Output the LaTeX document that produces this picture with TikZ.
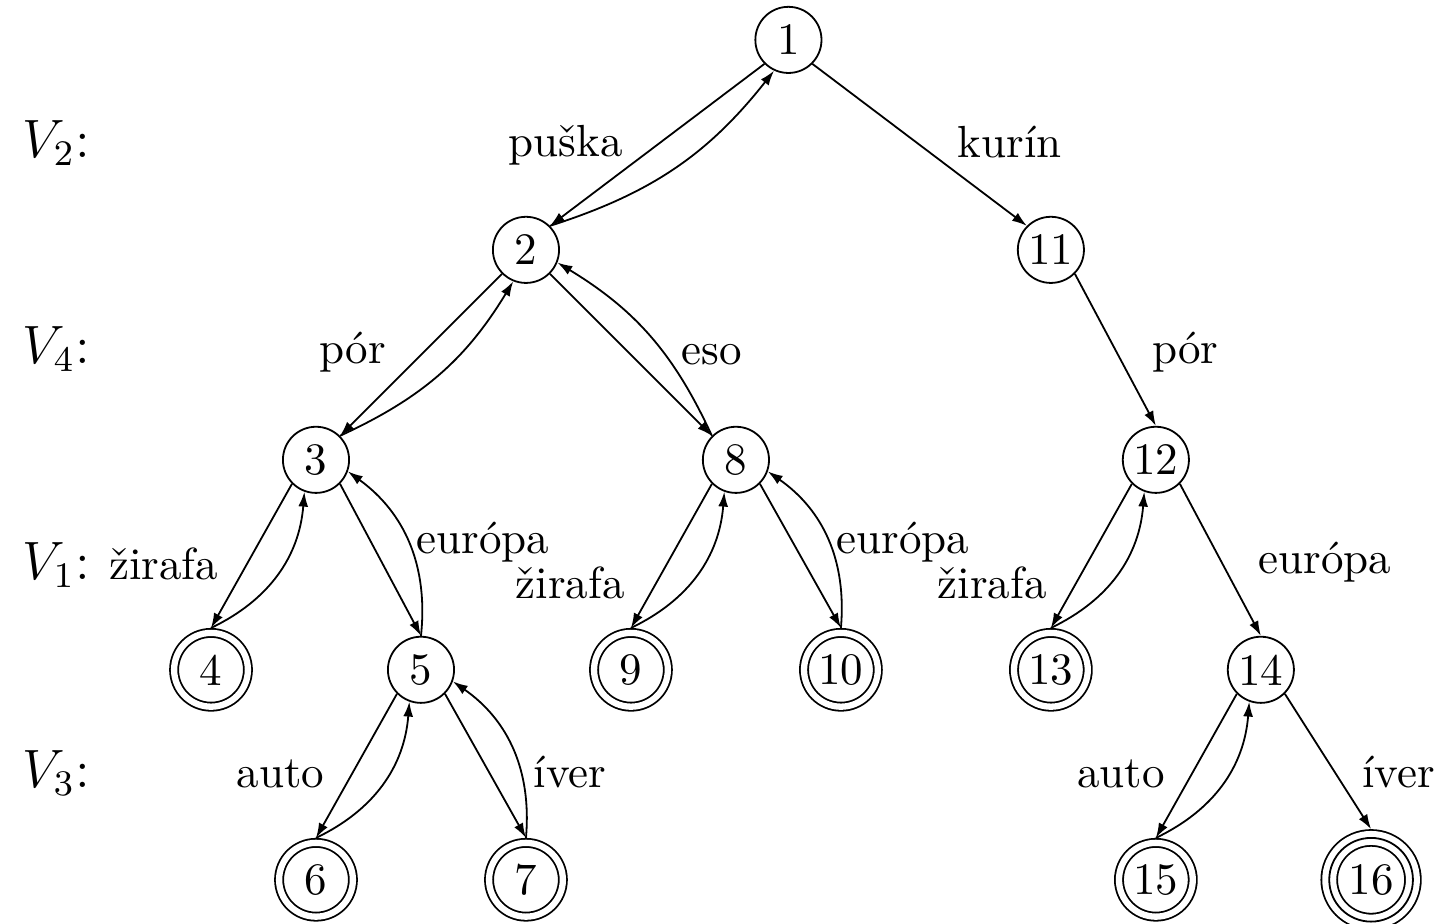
\documentclass[tikz,border=0pt]{standalone}
\usetikzlibrary{arrows.meta}

\tikzset{
  st/.style={circle, draw, minimum size=14.7pt, inner sep=0pt},
  acc/.style={st, minimum size=16.4pt, double, double distance=1.4pt, outer sep=1.1pt},
  acc3/.style={st, minimum size=18.6pt, outer sep=1.95pt, preaction={draw, double, double distance=3.1pt}},
  lbl/.style={anchor=base, inner sep=0pt},
  lev/.style={anchor=base west, inner sep=0pt, font=\large},
  tr/.style={-{Latex[length=3.3pt,width=2.2pt]}},
}

\begin{document}
\begin{tikzpicture}[x=0.82cm, y=0.82cm]
\useasboundingbox (-0.01,0.38) rectangle (13.84,-8.42);

% states
\node[st] (s1) at (7.5,0){1};
\node[st] (s2) at (5,-2){2};
\node[st] (s11) at (10,-2){11};
\node[st] (s3) at (3,-4){3};
\node[st] (s8) at (7,-4){8};
\node[st] (s12) at (11,-4){12};
\node[acc] (s4) at (2,-6){4};
\node[st] (s5) at (4,-6){5};
\node[acc] (s9) at (6,-6){9};
\node[acc] (s10) at (8,-6){10};
\node[acc] (s13) at (10,-6){13};
\node[st] (s14) at (12,-6){14};
\node[acc] (s6) at (3,-8){6};
\node[acc] (s7) at (5,-8){7};
\node[acc] (s15) at (11,-8){15};
\node[acc3] (s16) at (13.05,-8){16};

% levels
\node[lev] (v2) at (0.2,-1.12){$V_2$:};
\node[lev] (v4) at (0.2,-3.08){$V_4$:};
\node[lev] (v1) at (0.2,-5.14){$V_1$:};
\node[lev] (v3) at (0.2,-7.12){$V_3$:};

% words
\node[lbl] (wpuska) at (5.38,-1.11){puška};
\node[lbl] (wkurin) at (9.61,-1.12){kurín};
\node[lbl] (wpor1) at (3.35,-3.08){pór};
\node[lbl] (weso) at (6.77,-3.09){eso};
\node[lbl] (wpor2) at (11.28,-3.08){pór};
\node[lbl] (wzir1) at (1.55,-5.14){žirafa};
\node[lbl] (weur1) at (4.59,-4.89){európa};
\node[lbl] (wzir2) at (5.42,-5.32){žirafa};
\node[lbl] (weur2) at (8.59,-4.89){európa};
\node[lbl] (wzir3) at (9.44,-5.32){žirafa};
\node[lbl] (weur3) at (12.61,-5.08){európa};
\node[lbl] (wauto1) at (2.66,-7.12){auto};
\node[lbl] (wiver1) at (5.42,-7.12){íver};
\node[lbl] (wauto2) at (10.67,-7.12){auto};
\node[lbl] (wiver2) at (13.31,-7.12){íver};

% transitions
\draw[tr] (s1.south west) -- (s2.north east);
\draw[tr] (s2.north east) to[bend right=17] (s1.-115);
\draw[tr] (s1.south east) -- (s11.north west);

\draw[tr] (s2.south west) -- (s3.north east);
\draw[tr] (s3.north east) to[bend right=17] (s2.-112);
\draw[tr] (s2.south east) -- (s8.north west);
\draw[tr] (s8.north west) to[bend right=17] (s2.-22);
\draw[tr] (s11.south east) -- (s12.north);

\draw[tr] (s3.south west) -- (s4.north);
\draw[tr] (s4.north) to[bend right=30] (s3.-110);
\draw[tr] (s3.south east) -- (s5.north);
\draw[tr] (s5.north) to[bend right=30] (s3.-20);
\draw[tr] (s8.south west) -- (s9.north);
\draw[tr] (s9.north) to[bend right=30] (s8.-110);
\draw[tr] (s8.south east) -- (s10.north);
\draw[tr] (s10.north) to[bend right=30] (s8.-20);
\draw[tr] (s12.south west) -- (s13.north);
\draw[tr] (s13.north) to[bend right=30] (s12.-110);
\draw[tr] (s12.south east) -- (s14.north);

\draw[tr] (s5.south west) -- (s6.north);
\draw[tr] (s6.north) to[bend right=30] (s5.-110);
\draw[tr] (s5.south east) -- (s7.north);
\draw[tr] (s7.north) to[bend right=30] (s5.-20);
\draw[tr] (s14.south west) -- (s15.north);
\draw[tr] (s15.north) to[bend right=30] (s14.-110);
\draw[tr] (s14.south east) -- (s16.north);
\end{tikzpicture}
\end{document}
